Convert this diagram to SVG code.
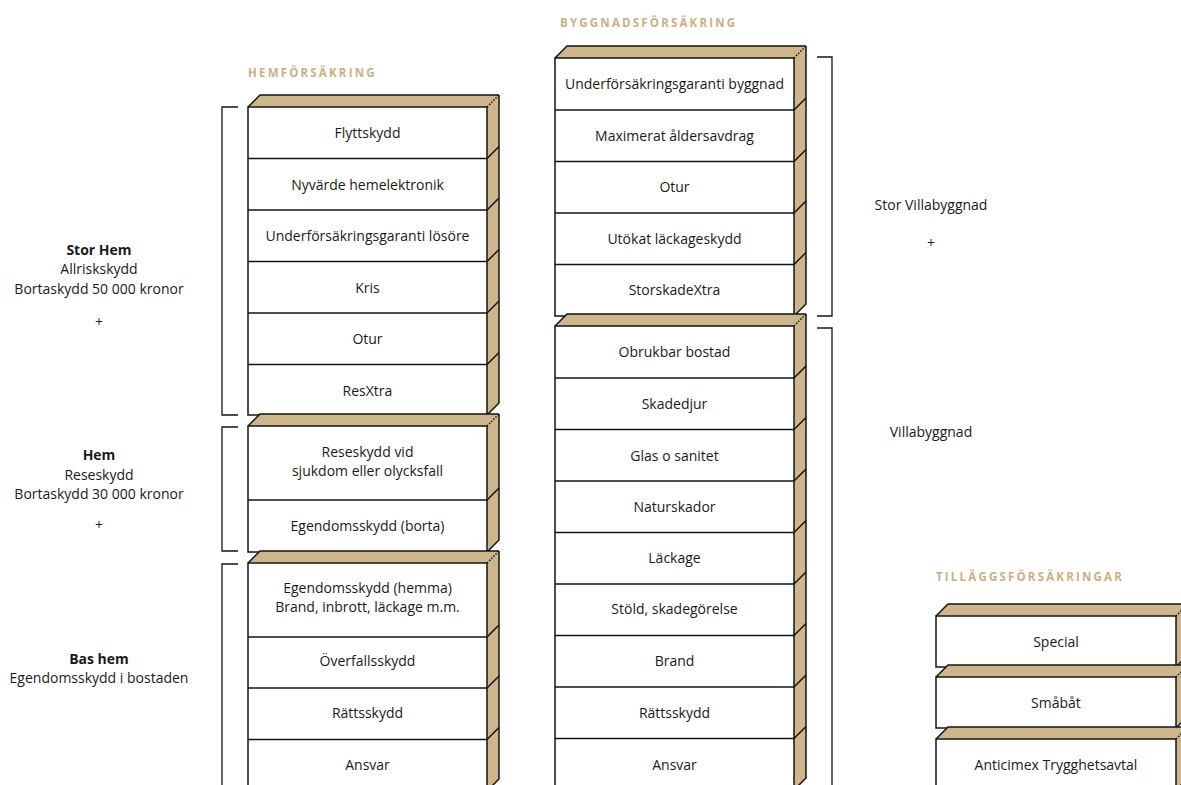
<svg xmlns="http://www.w3.org/2000/svg" width="1181" height="785" viewBox="0 0 1181 785">
<style>
.bg{fill:#ffffff}
.top,.side{fill:#CDB68B;stroke:none}
.front{fill:#ffffff;stroke:#141414;stroke-width:1.5}
.edge{fill:none;stroke:#141414;stroke-width:1.5}
.dot{fill:none;stroke:#141414;stroke-width:1.5;stroke-dasharray:1.5 1.5}
.div{fill:none;stroke:#141414;stroke-width:1.5}
.t{font-family:"Open Sans",sans-serif;font-size:14px;fill:#1a1a1a;text-anchor:middle}
.b{font-weight:700}
.h{font-family:"Open Sans",sans-serif;font-weight:700;font-size:11.5px;letter-spacing:2.2px;fill:#C9B084}
.br{fill:none;stroke:#141414;stroke-width:1.3}
</style>
<rect class="bg" x="0" y="0" width="1181" height="785"/>

<!-- headers -->
<text class="h" x="560" y="27">BYGGNADSFÖRSÄKRING</text>
<text class="h" x="248" y="77">HEMFÖRSÄKRING</text>
<text class="h" x="936" y="581">TILLÄGGSFÖRSÄKRINGAR</text>

<!-- side labels -->
<g id="label-stor-hem">
<text class="t b" x="99" y="255">Stor Hem</text>
<text class="t" x="99" y="274">Allriskskydd</text>
<text class="t" x="99" y="294">Bortaskydd 50 000 kronor</text>
<text class="t" x="99" y="327">+</text>
</g>
<g id="label-hem">
<text class="t b" x="99" y="460">Hem</text>
<text class="t" x="99" y="480">Reseskydd</text>
<text class="t" x="99" y="499">Bortaskydd 30 000 kronor</text>
<text class="t" x="99" y="530">+</text>
</g>
<g id="label-bas-hem">
<text class="t b" x="99" y="664">Bas hem</text>
<text class="t" x="99" y="683">Egendomsskydd i bostaden</text>
</g>
<g id="label-stor-villa">
<text class="t" x="931" y="210">Stor Villabyggnad</text>
<text class="t" x="931" y="248">+</text>
</g>
<g id="label-villa">
<text class="t" x="931" y="437">Villabyggnad</text>
</g>

<!-- brackets -->
<g id="connectors">
<path class="br" d="M238,107 H222 V415 H238"/>
<path class="br" d="M238,427 H222 V551 H238"/>
<path class="br" d="M238,564 H222 V790"/>
<path class="br" d="M817,57 H832 V316 H817"/>
<path class="br" d="M817,328 H832 V790"/>
</g>

<!-- Stor Hem block -->
<g id="block-stor-hem">
<polygon class="top" points="248,107 260,95 499,95 487,107"/>
<polygon class="side" points="487,107 499,95 499,403 487,415"/>
<rect class="front" x="248" y="107" width="239" height="308"/>
<path class="edge" d="M248,107 L260,95 L499,95"/>
<path class="edge" d="M499,95 V403 L487,415"/>
<path class="dot" d="M487,107 L499,95"/>
<path class="div" d="M248,158.5 H487 L499,146.5 M248,210 H487 L499,198 M248,261.5 H487 L499,249.5 M248,313 H487 L499,301 M248,364.5 H487 L499,352.5"/>
<g id="flyttskydd"><text class="t" x="367.5" y="138">Flyttskydd</text></g>
<g id="nyvarde"><text class="t" x="367.5" y="189.5">Nyvärde hemelektronik</text></g>
<g id="ufg-losore"><text class="t" x="367.5" y="241">Underförsäkringsgaranti lösöre</text></g>
<g id="kris"><text class="t" x="367.5" y="292.5">Kris</text></g>
<g id="otur-hem"><text class="t" x="367.5" y="344">Otur</text></g>
<g id="resxtra"><text class="t" x="367.5" y="395.5">ResXtra</text></g>
</g>

<!-- Hem block -->
<g id="block-hem">
<polygon class="top" points="248,426 260,414 499,414 487,426"/>
<polygon class="side" points="487,426 499,414 499,540 487,552"/>
<rect class="front" x="248" y="426" width="239" height="126"/>
<path class="edge" d="M248,426 L260,414 L499,414"/>
<path class="edge" d="M499,414 V540 L487,552"/>
<path class="dot" d="M487,426 L499,414"/>
<path class="div" d="M248,500 H487 L499,488"/>
<g id="reseskydd"><text class="t" x="367.5" y="457">Reseskydd vid</text><text class="t" x="367.5" y="476">sjukdom eller olycksfall</text></g>
<g id="egendom-borta"><text class="t" x="367.5" y="531">Egendomsskydd (borta)</text></g>
</g>

<!-- Bas hem block -->
<g id="block-bas-hem">
<polygon class="top" points="248,563 260,551 499,551 487,563"/>
<polygon class="side" points="487,563 499,551 499,779 487,791"/>
<rect class="front" x="248" y="563" width="239" height="228"/>
<path class="edge" d="M248,563 L260,551 L499,551"/>
<path class="edge" d="M499,551 V779 L487,791"/>
<path class="dot" d="M487,563 L499,551"/>
<path class="div" d="M248,637 H487 L499,625 M248,688 H487 L499,676 M248,739.5 H487 L499,727.5"/>
<g id="egendom-hemma"><text class="t" x="367.5" y="593">Egendomsskydd (hemma)</text><text class="t" x="367.5" y="612">Brand, inbrott, läckage m.m.</text></g>
<g id="overfall"><text class="t" x="367.5" y="666">Överfallsskydd</text></g>
<g id="rattsskydd-hem"><text class="t" x="367.5" y="718">Rättsskydd</text></g>
<g id="ansvar-hem"><text class="t" x="367.5" y="770">Ansvar</text></g>
</g>

<!-- Stor Villabyggnad block -->
<g id="block-stor-villa">
<polygon class="top" points="555,58 567,46 806,46 794,58"/>
<polygon class="side" points="794,58 806,46 806,304 794,316"/>
<rect class="front" x="555" y="58" width="239" height="258"/>
<path class="edge" d="M555,58 L567,46 L806,46"/>
<path class="edge" d="M806,46 V304 L794,316"/>
<path class="dot" d="M794,58 L806,46"/>
<path class="div" d="M555,110 H794 L806,98 M555,161.5 H794 L806,149.5 M555,213 H794 L806,201 M555,264.5 H794 L806,252.5"/>
<g id="ufg-byggnad"><text class="t" x="674.5" y="89">Underförsäkringsgaranti byggnad</text></g>
<g id="maximerat"><text class="t" x="674.5" y="140.5">Maximerat åldersavdrag</text></g>
<g id="otur-villa"><text class="t" x="674.5" y="192">Otur</text></g>
<g id="utokat"><text class="t" x="674.5" y="243.5">Utökat läckageskydd</text></g>
<g id="storskade"><text class="t" x="674.5" y="295">StorskadeXtra</text></g>
</g>

<!-- Villabyggnad block -->
<g id="block-villa">
<polygon class="top" points="555,326 567,314 806,314 794,326"/>
<polygon class="side" points="794,326 806,314 806,778 794,790"/>
<rect class="front" x="555" y="326" width="239" height="464"/>
<path class="edge" d="M555,326 L567,314 L806,314"/>
<path class="edge" d="M806,314 V778 L794,790"/>
<path class="dot" d="M794,326 L806,314"/>
<path class="div" d="M555,378 H794 L806,366 M555,429.5 H794 L806,417.5 M555,481 H794 L806,469 M555,532.5 H794 L806,520.5 M555,584 H794 L806,572 M555,635.5 H794 L806,623.5 M555,687 H794 L806,675 M555,738.5 H794 L806,726.5"/>
<g id="obrukbar"><text class="t" x="674.5" y="357">Obrukbar bostad</text></g>
<g id="skadedjur"><text class="t" x="674.5" y="409">Skadedjur</text></g>
<g id="glas"><text class="t" x="674.5" y="461">Glas o sanitet</text></g>
<g id="naturskador"><text class="t" x="674.5" y="512">Naturskador</text></g>
<g id="lackage"><text class="t" x="674.5" y="563">Läckage</text></g>
<g id="stold"><text class="t" x="674.5" y="614">Stöld, skadegörelse</text></g>
<g id="brand"><text class="t" x="674.5" y="666">Brand</text></g>
<g id="rattsskydd-villa"><text class="t" x="674.5" y="718">Rättsskydd</text></g>
<g id="ansvar-villa"><text class="t" x="674.5" y="770">Ansvar</text></g>
</g>

<!-- Tillägg blocks -->
<g id="block-special">
<polygon class="top" points="936,616 948,604 1188,604 1176,616"/>
<polygon class="side" points="1176,616 1188,604 1188,655 1176,667"/>
<rect class="front" x="936" y="616" width="240" height="51"/>
<path class="edge" d="M936,616 L948,604 L1188,604"/>
<path class="edge" d="M1188,604 V655 L1176,667"/>
<path class="dot" d="M1176,616 L1188,604"/>
<text class="t" x="1056" y="647">Special</text>
</g>
<g id="block-smabat">
<polygon class="top" points="936,677 948,665 1188,665 1176,677"/>
<polygon class="side" points="1176,677 1188,665 1188,716 1176,728"/>
<rect class="front" x="936" y="677" width="240" height="51"/>
<path class="edge" d="M936,677 L948,665 L1188,665"/>
<path class="edge" d="M1188,665 V716 L1176,728"/>
<path class="dot" d="M1176,677 L1188,665"/>
<text class="t" x="1056" y="708">Småbåt</text>
</g>
<g id="block-anticimex">
<polygon class="top" points="936,739 948,727 1188,727 1176,739"/>
<polygon class="side" points="1176,739 1188,727 1188,778 1176,790"/>
<rect class="front" x="936" y="739" width="240" height="51"/>
<path class="edge" d="M936,739 L948,727 L1188,727"/>
<path class="edge" d="M1188,727 V778 L1176,790"/>
<path class="dot" d="M1176,739 L1188,727"/>
<text class="t" x="1056" y="770">Anticimex Trygghetsavtal</text>
</g>
</svg>
